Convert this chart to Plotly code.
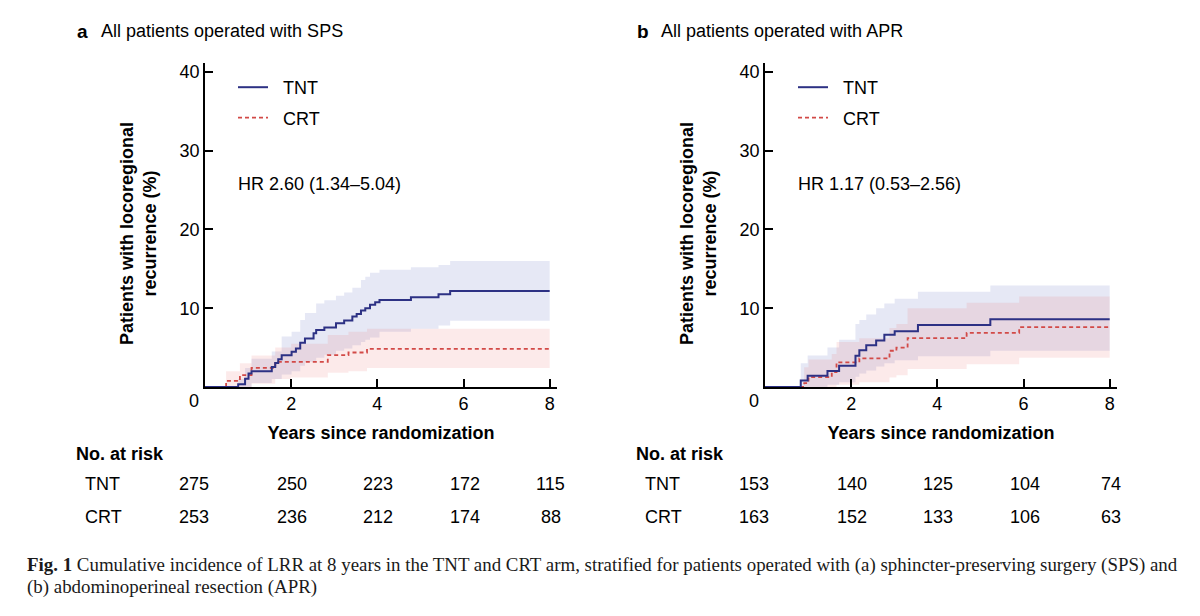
import plotly.graph_objects as go

# ---------------- data ----------------
# Panel a: SPS
a_tnt_t = [0, 0.77, 0.93, 1.01, 1.08, 1.55, 1.63, 1.70, 1.78, 2.01, 2.11, 2.21, 2.32, 2.52, 2.58, 2.77,
           3.04, 3.23, 3.42, 3.52, 3.62, 3.72, 3.83, 3.95, 4.05, 4.78, 5.42, 5.69, 8.0]
a_tnt_y = [0, 0.34, 1.06, 1.70, 2.0, 2.55, 3.06, 3.53, 4.04, 4.47, 4.89, 5.62, 6.17, 6.81, 7.23, 7.57,
           8.09, 8.43, 8.94, 9.28, 9.70, 10.0, 10.43, 10.77, 11.06, 11.40, 11.79, 12.2, 12.2]
a_tnt_ci_t = [0.77, 0.93, 1.08, 1.55, 1.78, 2.01, 2.21, 2.32, 2.58, 2.77, 3.04, 3.23, 3.42, 3.62, 3.72,
              3.83, 4.05, 4.78, 5.42, 5.69, 8.0]
a_tnt_lo = [0, 0, 0.5, 1.0, 1.6, 2.0, 2.7, 3.2, 3.7, 4.1, 4.6, 4.9, 5.3, 5.7, 6.0,
            6.3, 7.0, 7.4, 7.8, 8.4, 8.4]
a_tnt_hi = [1.0, 2.4, 3.6, 4.5, 6.4, 7.0, 8.5, 9.4, 10.6, 11.0, 11.6, 12.0, 12.6, 13.6, 14.0,
            14.5, 14.9, 15.2, 15.5, 16.0, 16.0]

a_crt_t = [0, 0.49, 0.81, 1.08, 1.63, 2.85, 3.33, 3.76, 8.0]
a_crt_y = [0, 0.77, 1.5, 2.43, 3.2, 4.04, 4.38, 4.85, 4.85]
a_crt_ci_t = [0.49, 0.81, 1.08, 1.63, 2.0, 2.85, 3.33, 3.76, 8.0]
a_crt_lo = [0, 0, 0.4, 1.0, 1.2, 1.8, 2.0, 2.4, 2.4]
a_crt_hi = [2.0, 3.0, 4.0, 5.0, 5.5, 6.6, 7.0, 7.4, 7.4]

# Panel b: APR
b_tnt_t = [0, 0.83, 0.99, 1.45, 1.72, 2.10, 2.19, 2.35, 2.58, 2.77, 3.01, 3.55, 5.23, 8.0]
b_tnt_y = [0, 0.83, 1.42, 2.04, 2.71, 3.96, 4.67, 5.29, 5.92, 6.63, 7.08, 7.88, 8.6, 8.6]
b_tnt_ci_t = [0.83, 0.99, 1.45, 1.72, 2.10, 2.19, 2.35, 2.58, 2.77, 3.01, 3.55, 5.23, 8.0]
b_tnt_lo = [0, 0, 0.3, 0.6, 1.3, 1.7, 2.1, 2.6, 3.0, 3.4, 3.9, 4.6, 4.6]
b_tnt_hi = [3.0, 4.0, 5.0, 6.0, 8.0, 8.5, 9.2, 10.0, 10.6, 11.2, 12.1, 12.9, 12.9]

b_crt_t = [0, 0.91, 1.01, 1.55, 1.66, 2.19, 2.89, 3.05, 3.31, 4.68, 5.90, 8.0]
b_crt_y = [0, 0.5, 1.25, 1.88, 3.13, 3.63, 4.6, 5.0, 6.2, 6.88, 7.6, 7.6]
b_crt_ci_t = [0.91, 1.01, 1.55, 1.66, 2.19, 2.89, 3.05, 3.31, 4.68, 5.90, 8.0]
b_crt_lo = [0, 0, 0, 0.3, 0.6, 1.2, 1.5, 2.3, 2.9, 3.7, 3.7]
b_crt_hi = [2.5, 3.5, 4.2, 5.7, 6.2, 7.5, 8.0, 10.0, 10.7, 11.5, 11.5]

risk_times = [0, 2, 4, 6, 8]
a_risk_tnt = [275, 250, 223, 172, 115]
a_risk_crt = [253, 236, 212, 174, 88]
b_risk_tnt = [153, 140, 125, 104, 74]
b_risk_crt = [163, 152, 133, 106, 63]

y_ticks = [10, 20, 30, 40]
x_ticks = [2, 4, 6, 8]

panel_titles = ["All patients operated with SPS", "All patients operated with APR"]
panel_letters = ["a", "b"]
hr_texts = ["HR 2.60 (1.34\u20135.04)", "HR 1.17 (0.53\u20132.56)"]
caption_1 = ("<b>Fig. 1</b> Cumulative incidence of LRR at 8 years in the TNT and CRT arm, "
             "stratified for patients operated with (a) sphincter-preserving surgery (SPS) and")
caption_2 = "(b) abdominoperineal resection (APR)"

# ---------------- styling ----------------
SANS = "Liberation Sans, Arial, sans-serif"
SERIF = "Liberation Serif, Times New Roman, serif"
TNT_COLOR = "#2d3184"
CRT_COLOR = "#d24a47"
TNT_BAND = "rgba(90,100,190,0.15)"
CRT_BAND = "rgba(230,90,90,0.13)"

W, H = 1200, 616
PAGE_OFF = 8  # page body margin in the browser


def px(x):
    return (x - PAGE_OFF) / W


def py(y):
    return 1 - (y - PAGE_OFF) / H


fig = go.Figure()

panels = [
    dict(xa="x", ya="y", legend="legend",
         tnt=(a_tnt_t, a_tnt_y, a_tnt_ci_t, a_tnt_lo, a_tnt_hi),
         crt=(a_crt_t, a_crt_y, a_crt_ci_t, a_crt_lo, a_crt_hi),
         risk=(a_risk_tnt, a_risk_crt)),
    dict(xa="x2", ya="y2", legend="legend2",
         tnt=(b_tnt_t, b_tnt_y, b_tnt_ci_t, b_tnt_lo, b_tnt_hi),
         crt=(b_crt_t, b_crt_y, b_crt_ci_t, b_crt_lo, b_crt_hi),
         risk=(b_risk_tnt, b_risk_crt)),
]

NB = "\u00a0\u00a0"
for p in panels:
    for key, band in (("tnt", TNT_BAND), ("crt", CRT_BAND)):
        t, y, ct, lo, hi = p[key]
        fig.add_trace(go.Scatter(x=ct, y=lo, mode="lines", line=dict(width=0, shape="hv"),
                                 hoverinfo="skip", showlegend=False, xaxis=p["xa"], yaxis=p["ya"]))
        fig.add_trace(go.Scatter(x=ct, y=hi, mode="lines", line=dict(width=0, shape="hv"),
                                 fill="tonexty", fillcolor=band, hoverinfo="skip",
                                 showlegend=False, xaxis=p["xa"], yaxis=p["ya"]))
    t, y = p["crt"][0], p["crt"][1]
    fig.add_trace(go.Scatter(x=t, y=y, mode="lines", name=NB + "CRT", legendgroup="crt",
                             line=dict(color=CRT_COLOR, width=1.8, dash="4px,3px", shape="hv"),
                             xaxis=p["xa"], yaxis=p["ya"], legend=p["legend"], legendrank=2))
    t, y = p["tnt"][0], p["tnt"][1]
    fig.add_trace(go.Scatter(x=t, y=y, mode="lines", name=NB + "TNT", legendgroup="tnt",
                             line=dict(color=TNT_COLOR, width=2, shape="hv"),
                             xaxis=p["xa"], yaxis=p["ya"], legend=p["legend"], legendrank=1))

x_domains = [[px(205), px(557)], [px(765), px(1117)]]
y_domain = [py(387), py(63)]

axis_common = dict(showline=True, linecolor="black", linewidth=1.5, ticks="inside", ticklen=8,
                   tickwidth=1.5, tickcolor="black", showgrid=False, zeroline=False,
                   tickfont=dict(family=SANS, size=18, color="black"))

layout = dict(
    width=W, height=H, margin=dict(l=0, r=0, t=0, b=0),
    paper_bgcolor="white", plot_bgcolor="white",
    font=dict(family=SANS, size=18, color="black"),
)
for i, (xn, yn) in enumerate((("xaxis", "yaxis"), ("xaxis2", "yaxis2"))):
    layout[xn] = dict(domain=x_domains[i], range=[0, 8.17], tickvals=x_ticks,
                      anchor="y" if i == 0 else "y2",
                      title=dict(text="<b>Years since randomization</b>", standoff=13,
                                 font=dict(family=SANS, size=18, color="black")),
                      **axis_common)
    layout[yn] = dict(domain=y_domain, range=[0, 41.14], tickvals=y_ticks,
                      anchor="x" if i == 0 else "x2", **axis_common)

leg_common = dict(xanchor="left", yanchor="top", bgcolor="rgba(0,0,0,0)", borderwidth=0,
                  font=dict(family=SANS, size=18, color="black"), tracegroupgap=4,
                  traceorder="grouped")
layout["legend"] = dict(x=px(233), y=py(69), **leg_common)
layout["legend2"] = dict(x=px(793), y=py(69), **leg_common)
fig.update_layout(**layout)

ann = []
offsets = [0, 560]
for i in range(2):
    xr = "x" if i == 0 else "x2"
    yr = "y" if i == 0 else "y2"
    dx = offsets[i]
    ann.append(dict(text="<b>" + panel_letters[i] + "</b>", x=px(75 + dx), y=py(31),
                    xref="paper", yref="paper", xanchor="left", yanchor="middle", showarrow=False,
                    font=dict(size=19)))
    ann.append(dict(text=panel_titles[i], x=px(99 + dx), y=py(31),
                    xref="paper", yref="paper", xanchor="left", yanchor="middle", showarrow=False))
    ann.append(dict(text=hr_texts[i], x=0.73, y=25.8, xref=xr, yref=yr,
                    xanchor="left", yanchor="middle", showarrow=False))
    ann.append(dict(text="0", x=0, y=0, xref=xr, yref=yr, xanchor="center", yanchor="middle",
                    xshift=-11, yshift=-14, showarrow=False))
    ann.append(dict(text="<b>Patients with locoregional</b><br><b>recurrence (%)</b>",
                    x=px(139 + dx), y=py(234), xref="paper", yref="paper",
                    textangle=-90, xanchor="center", yanchor="middle", showarrow=False))
    ann.append(dict(text="<b>No. at risk</b>", x=px(74 + dx), y=py(454), xref="paper",
                    yref="paper", xanchor="left", yanchor="middle", showarrow=False))
    for row, (lab, ypix) in enumerate((("TNT", 484), ("CRT", 517))):
        ann.append(dict(text=lab, x=px(83 + dx), y=py(ypix), xref="paper", yref="paper",
                        xanchor="left", yanchor="middle", showarrow=False))
        vals = panels[i]["risk"][row]
        for t, v in zip(risk_times, vals):
            ann.append(dict(text=str(v), x=t, y=py(ypix), xref=xr, yref="paper",
                            xanchor="center", yanchor="middle", showarrow=False,
                            xshift=-11 if t == 0 else 1))

ann.append(dict(text=caption_1, x=px(25), y=py(565), xref="paper", yref="paper",
                xanchor="left", yanchor="middle", showarrow=False,
                font=dict(family=SERIF, size=18.9, color="#1a1a1a")))
ann.append(dict(text=caption_2, x=px(25), y=py(587), xref="paper", yref="paper",
                xanchor="left", yanchor="middle", showarrow=False,
                font=dict(family=SERIF, size=18.9, color="#1a1a1a")))
fig.update_layout(annotations=ann)

fig.write_html("out.html")
